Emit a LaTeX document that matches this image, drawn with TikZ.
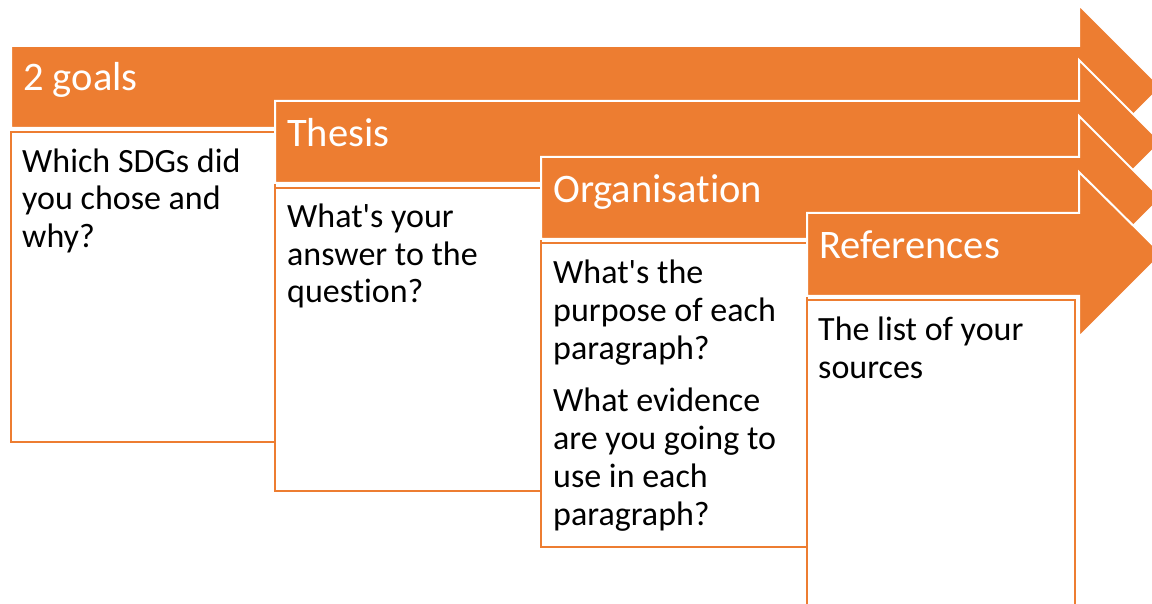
\documentclass[tikz,border=0pt]{standalone}
\usepackage{fontspec}
\setmainfont{Carlito}[RawFeature={-liga;-clig;-dlig;-calt}]
\usetikzlibrary{positioning}
\definecolor{accent}{HTML}{ED7D31}

\begin{document}
\begin{tikzpicture}[x=1pt,y=-1pt,
    stage/.style={fill=accent,draw=white,line width=2pt},
    panel/.style={fill=white,draw=accent,line width=2.5pt},
    title/.style={anchor=base west,inner sep=0pt,text=white,font=\fontsize{40.5}{49}\selectfont},
    % base of a multi-line node sits on its last line
    notes/.style={anchor=base west,inner sep=0pt,align=left,font=\fontsize{34}{38}\selectfont}]
  \useasboundingbox (0,0) rectangle (1152,604);
  \clip (0,0) rectangle (1152,604);
  % stage 1, arrow and its panel
  \draw[stage] (11,46) -- (1079,46) -- (1079,5) -- (1161,87) -- (1079,169) -- (1079,128) -- (11,128) -- cycle;
  \draw[panel] (11,132) rectangle (275,442);
  \node[title] (goals) at (23,91) {2 goals};
  \node[notes] (goalsnote) at (22,248) {Which SDGs did\\you chose and\\why?};
  % stage 2
  \draw[stage] (275,101) -- (1079,101) -- (1079,60) -- (1161,142) -- (1079,224) -- (1079,183) -- (275,183) -- cycle;
  \draw[panel] (275,188) rectangle (541,491);
  \node[title] (thesis) at (287,147) {Thesis};
  \node[notes] (thesisnote) at (287,303) {What\textquotesingle s your\\answer to the\\question?};
  % stage 3
  \draw[stage] (541,157) -- (1079,157) -- (1079,116) -- (1161,198) -- (1079,280) -- (1079,239) -- (541,239) -- cycle;
  \draw[panel] (541,243) rectangle (807,547);
  \node[title] (organisation) at (553,203) {Organisation};
  \node[notes] (organisationnote) at (553,525) {What\textquotesingle s the\\purpose of each\\paragraph?\\[14pt]What evidence\\are you going to\\use in each\\paragraph?};
  % stage 4, the last panel runs off the bottom
  \draw[stage] (807,213) -- (1079,213) -- (1079,172) -- (1162,254) -- (1079,337) -- (1079,296) -- (807,296) -- cycle;
  \draw[panel] (807,300) rectangle (1075,640);
  \node[title] (references) at (819,259) {References};
  \node[notes] (referencesnote) at (818,378) {The list of your\\sources};
\end{tikzpicture}
\end{document}
